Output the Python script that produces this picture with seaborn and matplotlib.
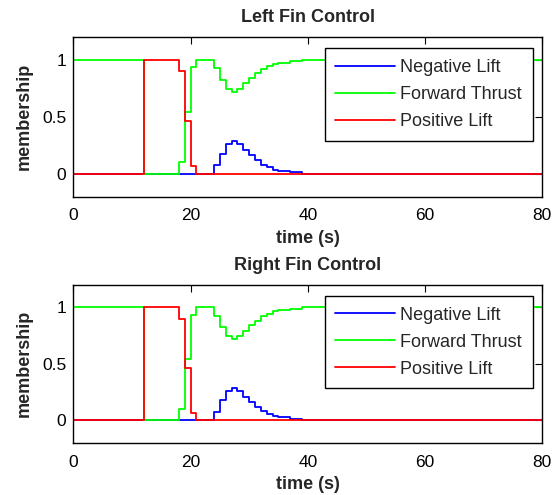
import matplotlib
matplotlib.use("Agg")
import matplotlib.pyplot as plt
import seaborn as sns
import pandas as pd

time_s = [0, 12, 18, 19, 20, 21, 24, 25, 26, 27, 28, 29, 30, 31, 32, 33, 34, 35, 37, 39, 80]
negative_lift = [0, 0, 0, 0, 0, 0, 0.074, 0.177, 0.257, 0.283, 0.257, 0.206, 0.160,
                 0.118, 0.080, 0.056, 0.035, 0.024, 0.012, 0, 0]
forward_thrust = [1, 0, 0.103, 0.540, 0.935, 1, 0.926, 0.823, 0.743, 0.717, 0.743, 0.794,
                  0.840, 0.882, 0.920, 0.944, 0.965, 0.976, 0.988, 1, 1]
positive_lift = [0, 1, 0.900, 0.460, 0.065, 0, 0, 0, 0, 0, 0, 0, 0, 0, 0, 0, 0, 0, 0, 0, 0]

panel_titles = ["Left Fin Control", "Right Fin Control"]
series_labels = ["Negative Lift", "Forward Thrust", "Positive Lift"]
series_colors = ["#0000ff", "#00ff00", "#ff0000"]
x_ticks = [0, 20, 40, 60, 80]
y_ticks = [0, 0.5, 1]
y_tick_labels = ["0", "0.5", "1"]
x_label = "time (s)"
y_label = "membership"

df = pd.DataFrame({"time": time_s, series_labels[0]: negative_lift,
                   series_labels[1]: forward_thrust, series_labels[2]: positive_lift})

sns.set_style("white")
plt.rcParams["font.family"] = ["Liberation Sans", "DejaVu Sans"]
plt.rcParams["xtick.direction"] = "in"
plt.rcParams["ytick.direction"] = "in"

fig = plt.figure(figsize=(5.58, 4.95), dpi=100)
W, H = 558, 495
boxes = [(73.3, 37.0, 542.3, 196.5), (73.3, 284.7, 542.3, 442.7)]

for (x0, y0, x1, y1), title in zip(boxes, panel_titles):
    ax = fig.add_axes([x0 / W, 1 - y1 / H, (x1 - x0) / W, (y1 - y0) / H])
    for lab, col in zip(series_labels, series_colors):
        sns.lineplot(data=df, x="time", y=lab, ax=ax, drawstyle="steps-post",
                     color=col, lw=1.3, label=lab, estimator=None, sort=False)
    ax.set_xlim(0, 80)
    ax.set_ylim(-0.2, 1.2)
    ax.set_xticks(x_ticks)
    ax.set_xticklabels([str(v) for v in x_ticks])
    ax.set_yticks(y_ticks)
    ax.set_yticklabels(y_tick_labels)
    ax.tick_params(axis="both", which="both", direction="in", length=5, width=0.8,
                   top=True, right=True, labelsize=12.5, colors="black")
    ax.tick_params(axis="x", pad=8.5)
    ax.tick_params(axis="y", pad=5)
    for s in ax.spines.values():
        s.set_visible(True)
        s.set_color("black")
        s.set_linewidth(1.0)
    ax.set_xlabel(x_label, fontsize=13, fontweight="bold", labelpad=5)
    ax.set_ylabel(y_label, fontsize=13, fontweight="bold", labelpad=7)
    ax.set_title(title, fontsize=13, fontweight="bold", pad=10.5)
    leg = ax.legend(loc="upper right", bbox_to_anchor=(0.980, 0.929), borderaxespad=0,
                    fontsize=13, frameon=True, fancybox=False, shadow=False,
                    handlelength=3.3, handletextpad=0.3, labelspacing=0.55,
                    borderpad=0.6, framealpha=1)
    leg.get_frame().set_edgecolor("black")
    leg.get_frame().set_linewidth(1.0)
    ax.grid(False)

fig.savefig("out.png", dpi=100, facecolor="white")
